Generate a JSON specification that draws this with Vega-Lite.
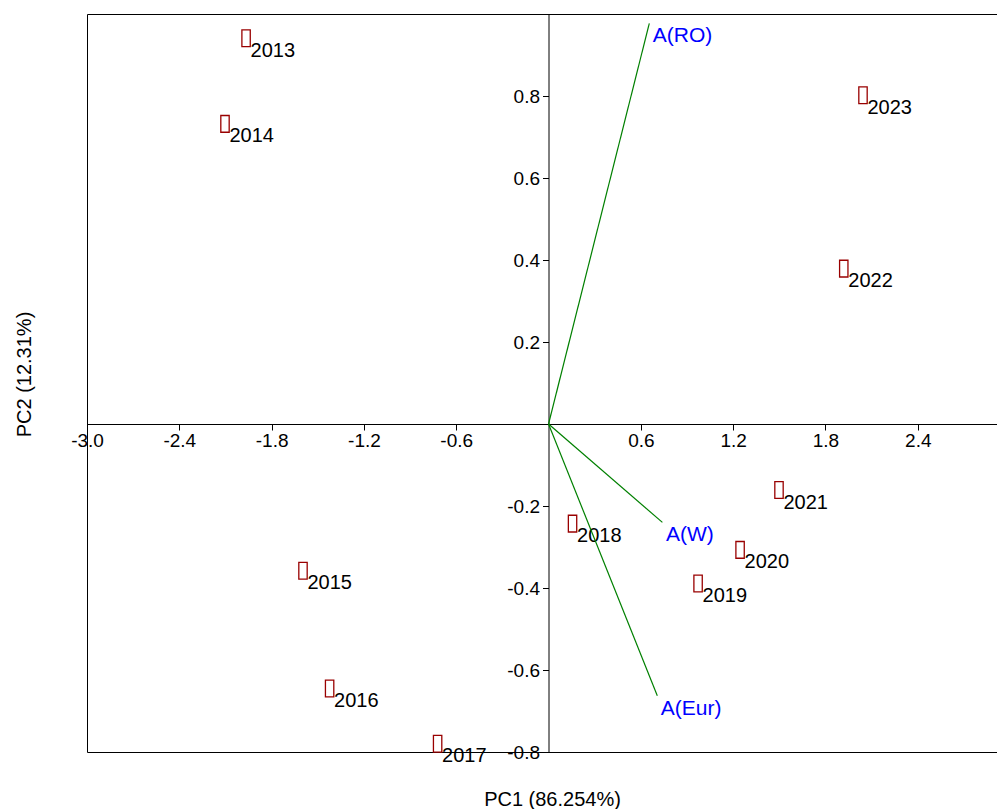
{
  "$schema": "https://vega.github.io/schema/vega-lite/v6.json",
  "width": 910,
  "height": 738,
  "autosize": {"type": "none"},
  "padding": {"left": 87, "top": 14, "right": 0, "bottom": 57},
  "background": "white",
  "config": {"view": {"stroke": "#000", "strokeWidth": 1}, "font": "Liberation Sans"},
  "datasets": {
    "scores": [
      {"year": "2013", "pc1": -1.966, "pc2": 0.941},
      {"year": "2014", "pc1": -2.103, "pc2": 0.732},
      {"year": "2015", "pc1": -1.596, "pc2": -0.358},
      {"year": "2016", "pc1": -1.423, "pc2": -0.645},
      {"year": "2017", "pc1": -0.721, "pc2": -0.780},
      {"year": "2018", "pc1": 0.156, "pc2": -0.243},
      {"year": "2019", "pc1": 0.972, "pc2": -0.389},
      {"year": "2020", "pc1": 1.245, "pc2": -0.307},
      {"year": "2021", "pc1": 1.498, "pc2": -0.161},
      {"year": "2022", "pc1": 1.919, "pc2": 0.379},
      {"year": "2023", "pc1": 2.044, "pc2": 0.802}
    ],
    "loadings": [
      {"name": "A(RO)", "pc1": 0.655, "pc2": 0.977},
      {"name": "A(W)", "pc1": 0.740, "pc2": -0.240},
      {"name": "A(Eur)", "pc1": 0.707, "pc2": -0.663}
    ]
  },
  "encoding": {
    "x": {
      "field": "pc1", "type": "quantitative",
      "scale": {"domain": [-3, 2.915], "nice": false, "zero": false},
      "axis": {
        "orient": "bottom", "offset": -328,
        "values": [-3, -2.4, -1.8, -1.2, -0.6, 0.6, 1.2, 1.8, 2.4],
        "format": ".1f", "labelExpr": "replace(datum.label, '−', '-')", "grid": false,
        "tickSize": 6, "labelPadding": 1, "labelFontSize": 19,
        "labelColor": "#000", "tickColor": "#000", "domainColor": "#000",
        "labelFlush": false, "labelOverlap": false,
        "title": "PC1 (86.254%)", "titleFontSize": 20, "titleFontWeight": "normal",
        "titleColor": "#000", "titleX": 465, "titleY": 381,
        "titleAlign": "center", "titleBaseline": "alphabetic"
      }
    },
    "y": {
      "field": "pc2", "type": "quantitative",
      "scale": {"domain": [-0.8, 1.0], "nice": false, "zero": false},
      "axis": {
        "orient": "left", "offset": -461.5,
        "values": [-0.8, -0.6, -0.4, -0.2, 0.2, 0.4, 0.6, 0.8],
        "format": ".1f", "labelExpr": "replace(datum.label, '−', '-')", "grid": false,
        "tickSize": 6, "labelPadding": 3, "labelFontSize": 19,
        "labelColor": "#000", "tickColor": "#000", "domainColor": "#000",
        "labelFlush": false, "labelOverlap": false,
        "title": "PC2 (12.31%)", "titleFontSize": 20, "titleFontWeight": "normal",
        "titleColor": "#000", "titleX": -524.5, "titleY": 360, "titleAngle": -90,
        "titleAlign": "center", "titleBaseline": "middle"
      }
    }
  },
  "layer": [
    {
      "data": {"name": "scores"},
      "mark": {"type": "point", "shape": "M-0.5,-1H0.5V1H-0.5Z", "filled": false, "stroke": "#990000", "strokeWidth": 1.3, "size": 280, "opacity": 1}
    },
    {
      "data": {"name": "scores"},
      "mark": {"type": "text", "align": "left", "baseline": "alphabetic", "dx": 4.5, "dy": 18.5, "fontSize": 20, "color": "#000"},
      "encoding": {"text": {"field": "year"}}
    },
    {
      "data": {"name": "loadings"},
      "mark": {"type": "rule", "color": "#008000", "strokeWidth": 1.2},
      "encoding": {"x2": {"datum": 0}, "y2": {"datum": 0}}
    },
    {
      "data": {"name": "loadings"},
      "mark": {"type": "text", "align": "left", "baseline": "alphabetic", "dx": 3.5, "dy": 19, "fontSize": 21, "color": "#0000ff"},
      "encoding": {"text": {"field": "name"}}
    }
  ]
}
